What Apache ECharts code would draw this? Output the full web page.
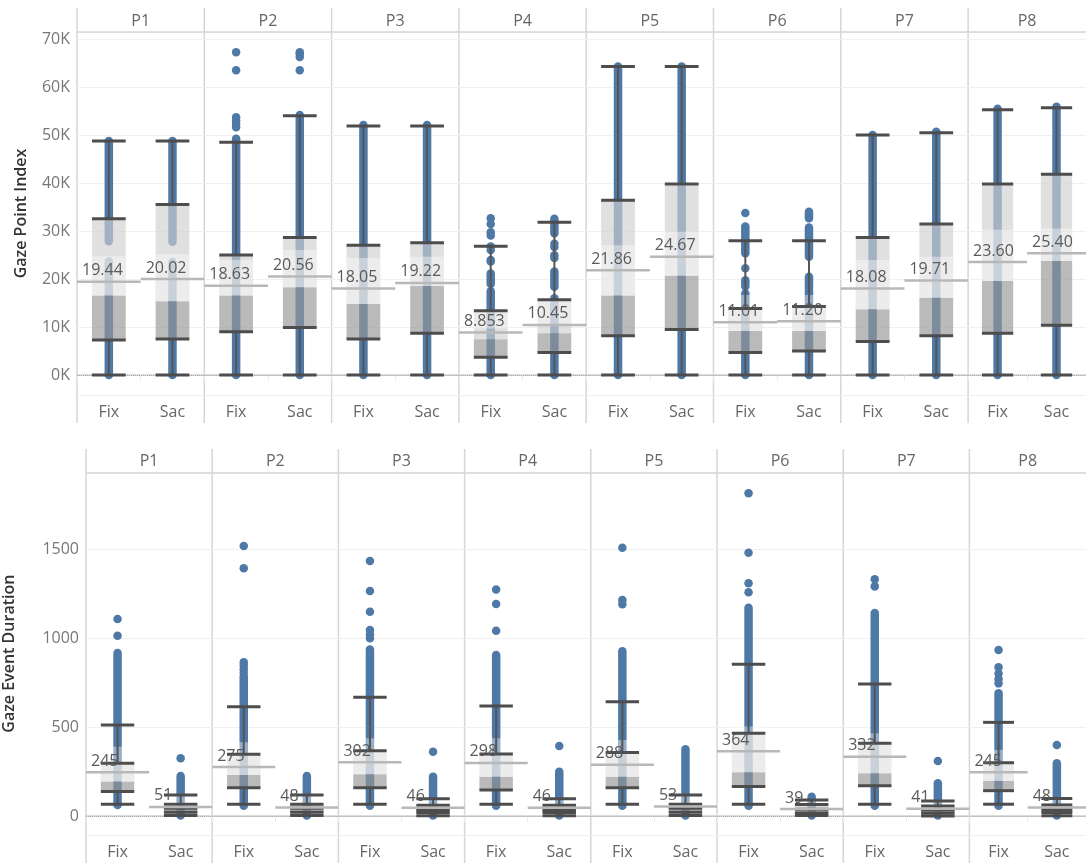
<!DOCTYPE html>
<html><head><meta charset="utf-8">
<script src="https://cdn.jsdelivr.net/npm/echarts@6/dist/echarts.min.js"></script>
<style>html,body{margin:0;padding:0;background:#fff}#c{width:1086px;height:863px}</style>
</head><body><div id="c"></div>
<script>
// ---------------- DATA ----------------
const participants = ['P1','P2','P3','P4','P5','P6','P7','P8'];
const eventTypes = ['Fix','Sac'];
// order of every 16-value array: P1 Fix, P1 Sac, P2 Fix, P2 Sac, ... P8 Sac

// Chart 1: Gaze Point Index (thousands)
const gpTicks = [0,10,20,30,40,50,60,70];
const gpMean  = [19.44,20.02,18.63,20.56,18.05,19.22,8.853,10.45,21.86,24.67,11.01,11.20,18.08,19.71,23.60,25.40];
const gpWhiskerLow  = [0,0,0,0,0,0,0,0,0,0,0,0,0,0,0,0];
const gpQ1     = [7.3,7.5,9.05,9.9,7.5,8.7,3.7,4.7,8.2,9.5,4.7,5.0,7.0,8.2,8.7,10.4];
const gpMedian = [16.6,15.4,16.6,18.3,14.8,18.6,7.45,8.7,16.6,20.7,9.2,9.2,13.7,16.1,19.6,23.8];
const gpQ3     = [32.6,35.6,25.05,28.7,27.1,27.6,13.4,15.7,36.5,39.9,13.9,14.3,28.7,31.5,39.9,41.9];
const gpWhiskerHigh = [48.85,48.85,48.6,54.1,52.0,52.0,26.9,31.9,64.4,64.4,28.0,28.0,50.1,50.6,55.4,55.8];
const gpBandLow  = [16.6,15.4,16.6,18.3,14.8,18.6,9.7,10.5,16.6,20.7,9.2,9.2,13.7,16.1,19.6,23.8];
const gpBandHigh = [24.8,25.2,24.0,26.1,24.4,24.7,13.4,15.7,27.1,29.9,16.7,16.7,24.0,24.7,30.3,30.6];
const gpExtraCap = [null,null,null,null,null,null,null,null,null,null,null,null,null,null,null,null];
const gpDotRuns = [
  [[0,23.7],[27.9,48.85]], [[0,23.6],[27.8,48.85]],
  [[0,49.3]], [[0,54.3]],
  [[0,52.2]], [[0,52.2]],
  [[0,17.5],[19.0,21.2]], [[0,16.0],[18.4,21.6],[29.6,32.6]],
  [[0,64.4]], [[0,64.4]],
  [[0,17.0],[18.5,19.8],[25.4,31.0]], [[0,17.5],[18.0,20.5],[24.7,30.8],[32.7,34.1]],
  [[0,50.1]], [[0,50.8]],
  [[0,55.6]], [[0,56.0]]
];
const gpOutliers = [
  [], [],
  [51.7,52.4,53.1,53.8,63.6,67.4], [63.6,66.4,67.0,67.4],
  [], [],
  [23.7,24.0,26.1,26.8,29.1,29.8,31.5,32.7], [24.4,25.0,26.7,27.4],
  [], [],
  [22.3,33.8], [],
  [], [],
  [], []
];

// Chart 2: Gaze Event Duration
const gdTicks = [0,500,1000,1500];
const gdMean  = [245,51,275,48,302,46,298,46,288,53,364,39,332,41,245,48];
const gdWhiskerLow  = [66,2,66,2,66,1,66,1,66,2,66,2,66,0,66,1];
const gdQ1     = [137,21,159,21,159,19,146,19,159,21,165,17,170,15,142,19];
const gdMedian = [193,43,230,43,234,35,221,35,221,43,245,38,240,34,197,35];
const gdQ3     = [296,66,347,66,367,60,348,60,356,66,465,64,408,56,299,62];
const gdWhiskerHigh = [511,118,614,118,667,97,618,97,642,118,852,90,742,84,526,98];
const gdBandLow  = [193,66,230,66,234,60,221,60,221,66,245,64,240,56,197,62];
const gdBandHigh = [389,118,414,118,437,97,437,97,427,118,502,90,465,84,371,98];
const gdExtraCap = [null,43,null,43,null,35,null,35,null,43,null,38,null,34,null,35];
const gdDotRuns = [
  [[62,915]], [[2,225]],
  [[58,783]], [[2,225]],
  [[58,935]], [[2,221]],
  [[58,905]], [[2,249]],
  [[58,925]], [[2,375]],
  [[58,1170]], [[2,108]],
  [[58,1140]], [[2,184]],
  [[58,690]], [[2,296]]
];
const gdOutliers = [
  [1013,1107], [324],
  [805,825,845,863,1392,1517], [],
  [998,1020,1045,1148,1264,1433], [361],
  [1041,1191,1273], [393],
  [1190,1213,1507], [],
  [1257,1307,1479,1813], [],
  [1290,1330], [309],
  [745,770,800,835,933], [399]
];

// ---------------- LAYOUT / STYLE ----------------
const FONT = '"Open Sans", "Noto Sans", sans-serif';
const BLUE = '#4e79a7';
const rows = [
  {left:77, top:32, width:127.3, height:363, min:-4.18, max:71.61, step:10, fmt:v=>v+'K',
   name:'Gaze Point Index', nameGap:48, divTop:8, divBottom:423, headMargin:3,
   mean:gpMean, meanFmt:v=>v.toPrecision(4), wlo:gpWhiskerLow, q1:gpQ1, med:gpMedian, q3:gpQ3, whi:gpWhiskerHigh,
   bLo:gpBandLow, bHi:gpBandHigh, extra:gpExtraCap, runs:gpDotRuns, out:gpOutliers},
  {left:86, top:472.3, width:126.2, height:362.7, min:-107, max:1931, step:500, fmt:v=>String(v),
   name:'Gaze Event Duration', nameGap:69, divTop:449, divBottom:863, headMargin:3,
   mean:gdMean, meanFmt:v=>String(v), wlo:gdWhiskerLow, q1:gdQ1, med:gdMedian, q3:gdQ3, whi:gdWhiskerHigh,
   bLo:gdBandLow, bHi:gdBandHigh, extra:gdExtraCap, runs:gdDotRuns, out:gdOutliers}
];

function renderRuns(params, api){
  const c = api.value(0);
  const p1 = api.coord([c, api.value(1)]);
  const p2 = api.coord([c, api.value(2)]);
  return {type:'line', shape:{x1:p1[0], y1:p1[1], x2:p2[0], y2:p2[1]},
          style:{stroke:BLUE, lineWidth:8.5, lineCap:'round'}};
}
function renderBox(params, api){
  const c = api.value(0);
  const bw = api.size([1,0])[0]*0.53;
  const X = api.coord([c,0])[0];
  const Y = v => api.coord([c,v])[1];
  const x0 = X - bw/2;
  const wlo=api.value(1), q1=api.value(2), med=api.value(3), q3=api.value(4), whi=api.value(5);
  const bLo=api.value(6), bHi=api.value(7), extra=api.value(8);
  const ch = [];
  ch.push({type:'rect', shape:{x:x0, y:Y(med), width:bw, height:Y(q1)-Y(med)}, style:{fill:'rgba(150,150,150,0.66)'}});
  ch.push({type:'rect', shape:{x:x0, y:Y(q3), width:bw, height:Y(med)-Y(q3)}, style:{fill:'rgba(208,208,208,0.66)'}});
  if(!isNaN(bLo) && !isNaN(bHi)){
    ch.push({type:'rect', shape:{x:x0, y:Y(bHi), width:bw, height:Y(bLo)-Y(bHi)}, style:{fill:'rgba(255,255,255,0.4)'}});
  }
  ch.push({type:'line', shape:{x1:X, y1:Y(q3), x2:X, y2:Y(whi)}, style:{stroke:'#555', lineWidth:2}});
  ch.push({type:'line', shape:{x1:X, y1:Y(q1), x2:X, y2:Y(wlo)}, style:{stroke:'#555', lineWidth:2}});
  const caps = [wlo,q1,q3,whi];
  if(!isNaN(extra)) caps.push(extra);
  caps.forEach(v=>{
    ch.push({type:'line', shape:{x1:x0, y1:Y(v), x2:x0+bw, y2:Y(v)}, style:{stroke:'#4d4d4d', lineWidth:3}});
  });
  return {type:'group', children:ch};
}
function makeMeanRenderer(fmt){
  return function(params, api){
    const c = api.value(0);
    const band = api.size([1,0])[0];
    const p = api.coord([c, api.value(1)]);
    return {type:'group', children:[
      {type:'line', shape:{x1:p[0]-band/2, y1:p[1], x2:p[0]+band/2, y2:p[1]}, style:{stroke:'#b8b8b8', lineWidth:2.5}},
      {type:'text', x:p[0]-band/2+5, y:p[1]-3, style:{text:fmt(api.value(1)), align:'left', verticalAlign:'bottom',
        fontSize:16, fontFamily:FONT, fill:'#5a5a5a'}, z2:10}
    ]};
  };
}

const grid=[], xAxis=[], yAxis=[], series=[], graphic=[];
rows.forEach((R, r)=>{
  participants.forEach((p, i)=>{
    const g = r*8+i;
    grid.push({left:R.left+i*R.width, top:R.top, width:R.width, height:R.height, containLabel:false});
    xAxis.push({type:'category', gridIndex:g, data:eventTypes, position:'bottom',
      axisLine:{show:true, lineStyle:{color:'#dcdcdc', width:2}},
      axisTick:{show:true, interval:0, length:6, lineStyle:{color:'#ececec'}},
      axisLabel:{fontSize:16, color:'#666', margin:9, fontFamily:FONT},
      splitLine:{show:false}});
    xAxis.push({type:'category', gridIndex:g, data:[p], position:'top',
      axisLine:{show:true, lineStyle:{color:'#d6d6d6', width:1.5}},
      axisTick:{show:false},
      axisLabel:{fontSize:16, color:'#666', margin:R.headMargin, fontFamily:FONT}});
    yAxis.push({type:'value', gridIndex:g, min:R.min, max:R.max, minInterval:R.step, maxInterval:R.step, splitNumber:7,
      axisLine:{show:false}, axisTick:{show:false},
      axisLabel:{show:i===0, fontSize:16, color:'#777', margin:7, fontFamily:FONT, formatter:R.fmt, showMinLabel:false, showMaxLabel:false},
      splitLine:{show:true, lineStyle:{color:'#f0f0f0', width:1}},
      name:i===0?R.name:'', nameLocation:'middle', nameGap:R.nameGap,
      nameTextStyle:{fontSize:16, fontWeight:600, color:'#333', fontFamily:FONT}});
    const xi = g*2, yi = g;
    const runData=[], outData=[], boxData=[], meanData=[];
    eventTypes.forEach((t, c)=>{
      const k = i*2+c;
      R.runs[k].forEach(s=>runData.push([c, s[0], s[1]]));
      R.out[k].forEach(v=>outData.push([c, v]));
      boxData.push([c, R.wlo[k], R.q1[k], R.med[k], R.q3[k], R.whi[k], R.bLo[k], R.bHi[k], R.extra[k]]);
      meanData.push([c, R.mean[k]]);
    });
    series.push({type:'custom', xAxisIndex:xi, yAxisIndex:yi, data:runData, renderItem:renderRuns, encode:{x:0,y:[1,2]}, z:1, silent:true});
    series.push({type:'scatter', xAxisIndex:xi, yAxisIndex:yi, data:outData, symbolSize:8.5, itemStyle:{color:BLUE, opacity:1}, z:1, silent:true});
    series.push({type:'custom', xAxisIndex:xi, yAxisIndex:yi, data:boxData, renderItem:renderBox, encode:{x:0,y:[1,5]}, z:2, silent:true,
      markLine:{silent:true, symbol:['none','none'], label:{show:false}, lineStyle:{type:'dotted', color:'#a8a8a8', width:1}, data:[{yAxis:0}], z:1}});
    series.push({type:'custom', xAxisIndex:xi, yAxisIndex:yi, data:meanData, renderItem:makeMeanRenderer(R.meanFmt), encode:{x:0,y:1}, z:3, silent:true});
  });
  for(let i=0;i<=8;i++){
    const x = R.left + i*R.width;
    graphic.push({type:'line', silent:true, shape:{x1:x, y1:R.divTop, x2:x, y2:R.divBottom}, style:{stroke:'#d6d6d6', lineWidth:1.5}, z:0});
  }
});

const chart = echarts.init(document.getElementById('c'));
chart.setOption({animation:false, backgroundColor:'#fff', grid, xAxis, yAxis, series, graphic});
</script></body></html>
